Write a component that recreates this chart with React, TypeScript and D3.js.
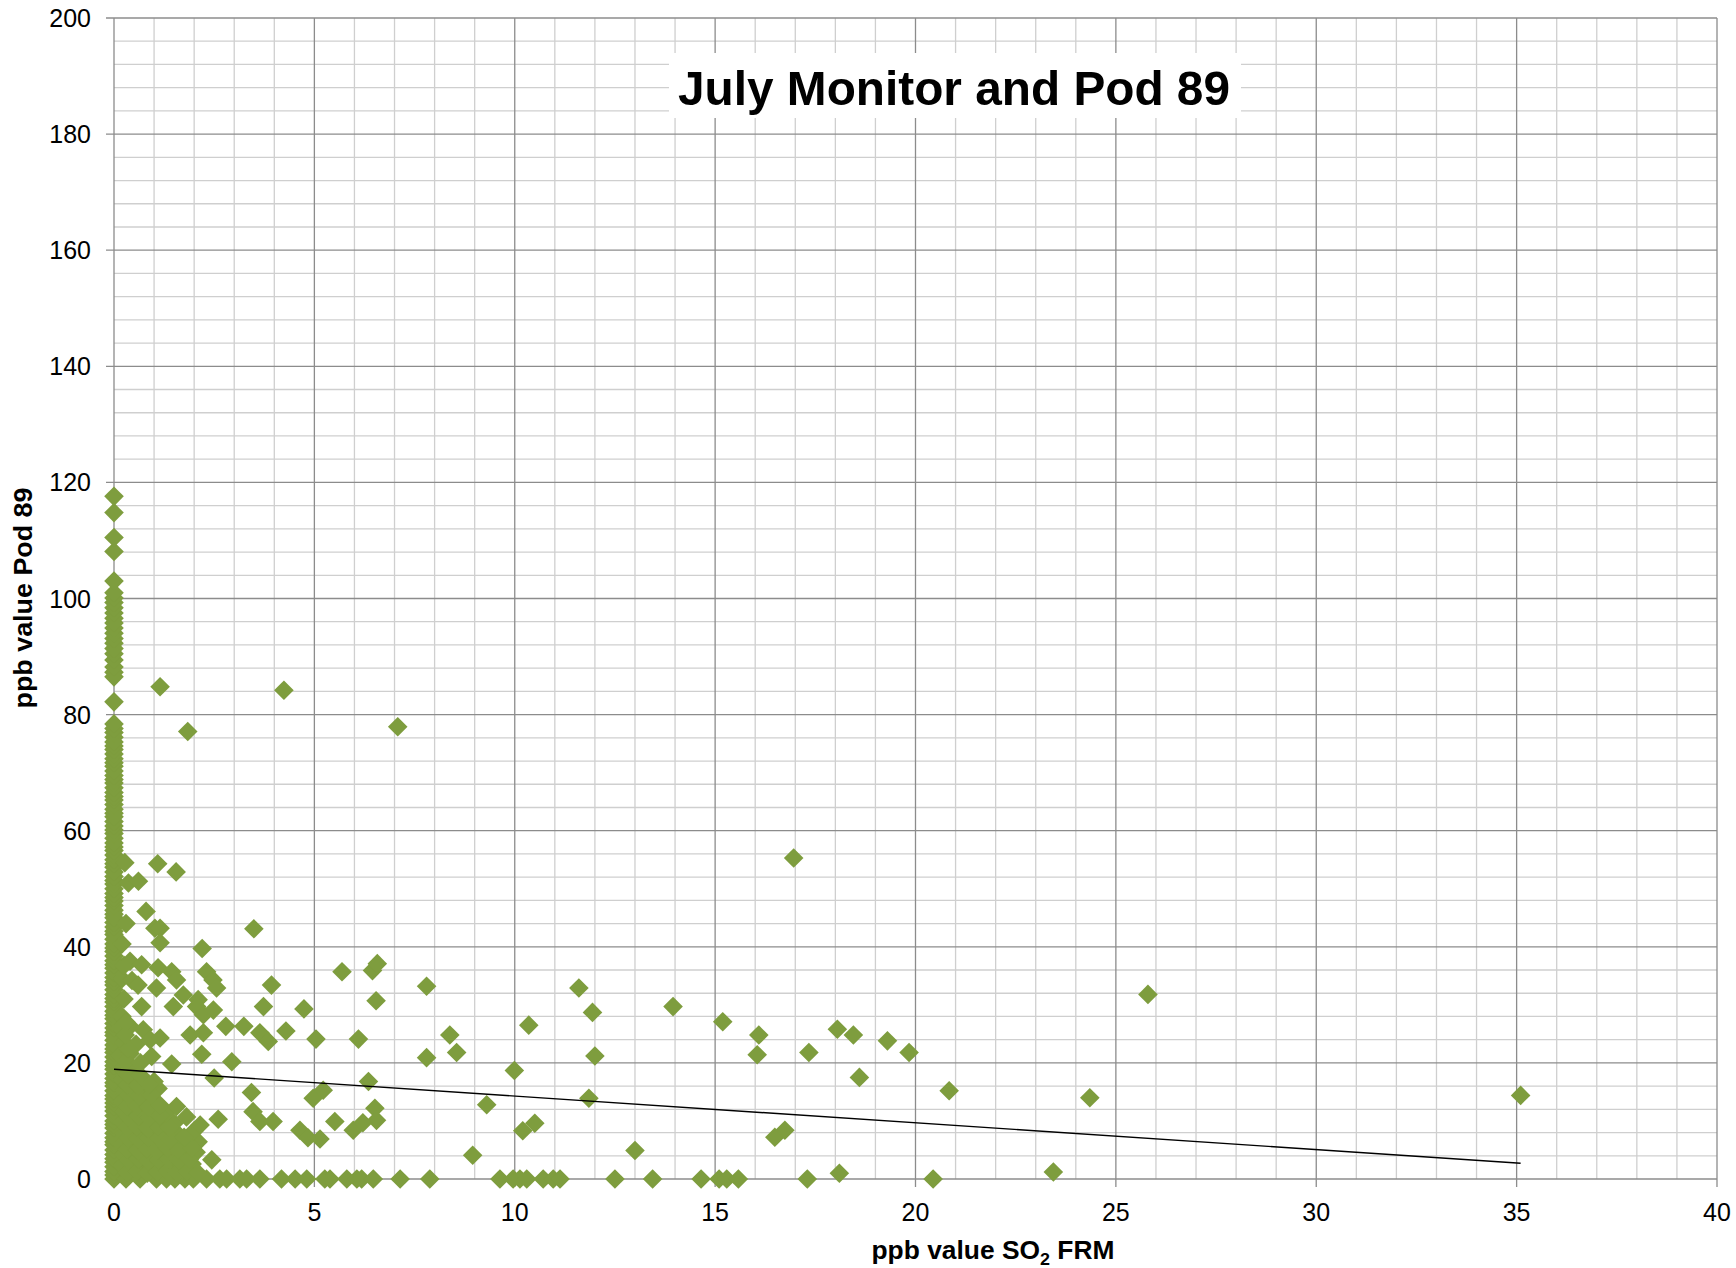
import React from 'react';
import * as d3 from 'd3';

// ppb value SO2 FRM (x) vs ppb value Pod 89 (y)

// readings where FRM = 0
const zeroFrmPod = [
  0, 0.7, 1.3, 2.1, 2.9, 3.5, 4.2, 5.0, 5.9, 6.4, 7.1, 7.9, 8.8, 9.4, 10.0, 10.9, 11.7, 12.4,
  13.1, 13.8, 14.4, 15.2, 16.0, 16.6, 17.3, 18.1, 18.9, 19.5, 20.2, 21.0, 21.8, 22.4, 23.1,
  23.9, 24.7, 25.3, 26.0, 26.8, 27.6, 28.2, 28.9, 29.7, 30.5, 31.1, 31.8, 32.6, 33.4, 34.0,
  34.7, 35.5, 36.3, 36.9, 37.6, 38.4, 39.2, 39.8, 40.5, 41.3, 42.1, 42.7, 43.4, 44.2, 45.0,
  45.6, 46.3, 47.1, 47.9, 48.5, 49.2, 50.0, 50.8, 51.4, 52.1, 52.9, 53.7, 54.3, 55.0, 55.8,
  56.6, 57.2, 57.9, 58.7, 59.5, 60.1, 60.8, 61.6, 62.4, 63.0, 63.7, 64.5, 65.3, 65.9, 66.6,
  67.4, 68.2, 68.8, 69.5, 70.3, 71.1, 71.7, 72.4, 73.2, 74.0, 74.6, 75.3, 76.1, 76.9, 77.6,
  78.4, 82.2, 86.5, 87.3, 88.2, 89.4, 90.5, 91.4, 92.3, 93.1, 94.0, 94.9, 95.8, 96.6, 97.5,
  98.4, 99.3, 100.1, 101.0, 103.0, 108.1, 110.5, 114.8, 117.6
];

// readings where Pod 89 = 0
const zeroPodFrm = [
  0.3, 0.65, 1.06, 1.31, 1.52, 1.77, 1.98, 2.31, 2.64, 2.81, 3.14, 3.31, 3.64, 4.18, 4.52,
  4.81, 5.26, 5.39, 5.81, 6.06, 6.18, 6.47, 7.14, 7.88, 9.63, 9.96, 10.13, 10.3, 10.71,
  10.96, 11.13, 12.5, 13.44, 14.65, 15.1, 15.29, 15.58, 17.3, 20.44
];

// dense cloud near the origin [frm, pod]
const nearOrigin: [number, number][] = [
  [0.2, 2.3], [0.45, 2.1], [0.7, 2.4], [0.95, 2.2], [1.2, 2.5], [1.45, 2.0], [1.7, 2.3], [1.95, 2.6],
  [0.33, 1.1], [0.58, 1.3], [0.83, 1.0], [1.08, 1.2], [1.33, 1.4], [1.58, 1.1], [1.83, 1.3], [2.1, 1.0],
  [0.25, 4.2], [0.5, 4.4], [0.75, 4.1], [1.0, 4.3], [1.25, 4.5], [1.5, 4.0], [1.75, 4.4], [2.05, 4.6],
  [0.36, 3.2], [0.61, 3.4], [0.86, 3.1], [1.11, 3.3], [1.36, 3.5], [1.63, 3.2], [1.88, 3.4],
  [0.2, 6.0], [0.45, 6.2], [0.7, 5.9], [0.95, 6.1], [1.2, 6.3], [1.45, 5.8], [1.8, 6.1], [2.1, 6.4],
  [0.33, 5.1], [0.58, 5.0], [0.83, 5.2], [1.08, 4.9], [1.33, 5.3], [1.6, 5.0], [1.95, 5.4],
  [0.25, 7.9], [0.5, 8.1], [0.75, 7.8], [1.0, 8.0], [1.3, 8.2], [1.6, 7.7], [2.0, 8.3],
  [0.36, 7.0], [0.61, 6.9], [0.86, 7.1], [1.13, 7.0], [1.4, 6.8], [1.75, 7.2],
  [0.2, 9.8], [0.45, 10.0], [0.7, 9.7], [0.95, 9.9], [1.2, 10.2], [1.5, 9.6],
  [0.33, 8.9], [0.58, 9.0], [0.83, 8.8], [1.1, 9.1], [1.38, 8.9],
  [0.25, 11.6], [0.5, 11.8], [0.75, 11.5], [1.0, 11.7], [1.3, 11.4],
  [0.36, 10.7], [0.61, 10.8], [0.88, 10.6], [1.15, 10.9],
  [0.2, 13.4], [0.45, 13.6], [0.7, 13.3], [1.0, 13.5],
  [0.33, 12.5], [0.58, 12.6], [0.85, 12.4], [1.15, 12.7],
  [0.25, 15.3], [0.5, 15.1], [0.8, 15.4], [1.1, 15.6],
  [0.36, 14.4], [0.64, 14.3], [0.93, 14.5],
  [0.2, 17.1], [0.45, 17.3], [0.75, 17.0], [1.0, 16.8],
  [0.33, 16.2], [0.6, 16.1], [0.88, 16.3],
  [0.2, 19.0], [0.5, 18.8], [0.35, 18.0], [0.65, 17.9],
  [0.15, 21.3], [0.4, 21.6], [0.3, 20.3],
  [0.25, 23.5], [0.55, 23.2], [0.35, 22.4],
  [0.15, 26.0], [0.4, 26.3], [0.28, 24.8],
  [0.2, 28.0], [0.25, 31.0], [0.3, 27.0],
  [0.2, 34.5], [0.45, 34.2], [0.25, 36.8],
  [0.27, 54.5], [0.36, 51.0], [0.3, 44.0], [0.2, 40.5]
];

// scattered readings [frm, pod]
const scattered: [number, number][] = [
  [1.15, 84.8], [4.24, 84.2], [1.84, 77.1], [7.08, 77.9], [16.96, 55.3],
  [1.09, 54.3], [1.55, 52.9], [0.61, 51.3], [0.8, 46.1], [1.02, 43.2], [1.15, 43.2],
  [1.15, 40.7], [2.2, 39.7], [3.49, 43.1], [0.4, 37.5], [0.69, 36.9], [1.1, 36.4],
  [1.44, 35.7], [1.56, 34.3], [0.6, 33.4], [1.06, 32.9], [2.31, 35.7], [2.47, 34.3],
  [2.56, 32.9], [1.73, 31.7], [2.1, 30.9], [3.93, 33.4], [5.69, 35.7], [6.45, 35.9],
  [6.57, 37.1], [6.54, 30.7], [0.69, 29.7], [1.48, 29.7], [2.06, 29.7], [2.23, 28.3],
  [2.48, 29.1], [3.73, 29.7], [4.74, 29.3], [2.79, 26.3], [3.24, 26.3], [3.64, 25.2],
  [3.85, 23.7], [4.29, 25.5], [5.04, 24.1], [6.1, 24.1], [0.73, 25.7], [0.9, 24.0],
  [1.15, 24.3], [1.9, 24.8], [2.23, 25.2], [2.19, 21.5], [2.94, 20.2], [1.44, 19.8],
  [0.94, 21.1], [0.66, 20.0], [2.5, 17.4], [3.43, 14.9], [4.97, 13.9], [5.22, 15.3],
  [6.35, 16.8], [6.51, 12.2], [6.55, 10.1], [2.6, 10.3], [3.47, 11.6], [3.64, 9.9],
  [3.97, 9.9], [4.64, 8.4], [4.84, 7.1], [5.14, 6.9], [5.51, 9.9], [5.97, 8.4],
  [6.21, 9.7], [1.56, 12.5], [1.81, 10.7], [2.15, 9.3], [2.44, 3.3],
  [7.8, 33.2], [8.38, 24.8], [8.55, 21.8], [7.8, 20.9], [9.99, 18.7], [10.35, 26.5],
  [11.6, 32.9], [11.94, 28.7], [12.0, 21.2], [11.85, 13.9], [13.95, 29.7], [15.19, 27.1],
  [16.09, 24.8], [16.05, 21.4], [17.34, 21.8], [9.3, 12.8], [10.2, 8.3], [10.5, 9.6],
  [8.95, 4.1], [13.0, 4.9], [16.49, 7.2], [16.74, 8.4],
  [18.05, 25.8], [18.45, 24.8], [19.3, 23.8], [19.84, 21.8], [18.6, 17.5], [20.84, 15.2],
  [24.35, 14.0], [25.8, 31.8], [18.1, 1.0], [23.44, 1.2], [35.1, 14.4]
];

// linear trendline
const trendIntercept = 18.9;
const trendSlope = -0.461;
const trendEndX = 35.1;

const xTicks = [0, 5, 10, 15, 20, 25, 30, 35, 40];
const yTicks = [0, 20, 40, 60, 80, 100, 120, 140, 160, 180, 200];

const W = 1736;
const H = 1268;
const left = 114, right = 1717, top = 18, bottom = 1179;
const green = '#7e9d3e';
const font = '"Liberation Sans", Arial, sans-serif';

export default function App() {
  const x = d3.scaleLinear().domain([0, 40]).range([left, right]);
  const y = d3.scaleLinear().domain([0, 200]).range([bottom, top]);

  const points: [number, number][] = [
    ...zeroFrmPod.map((v) => [0, v] as [number, number]),
    ...zeroPodFrm.map((v) => [v, 0] as [number, number]),
    ...nearOrigin,
    ...scattered
  ];

  const hasD2 = !!(d3 as any).symbolDiamond2;
  const diamond = d3.symbol().type(hasD2 ? (d3 as any).symbolDiamond2 : d3.symbolSquare).size(hasD2 ? 245 : 192)();
  const rot = hasD2 ? '' : ' rotate(45)';

  const minorX = d3.range(0, 41, 1).filter((v) => v % 5 !== 0);
  const minorY = d3.range(0, 201, 4).filter((v) => v % 20 !== 0);

  const trend = d3.line<number>().x((d) => x(d)).y((d) => y(trendIntercept + trendSlope * d));

  return (
    <svg width={W} height={H} style={{ position: 'absolute', left: 0, top: 0, background: '#fff' }}>
      <rect x={0} y={0} width={W} height={H} fill="#fff" />
      {/* minor grid */}
      <g stroke="#cfcfcf" strokeWidth={1.3}>
        {minorX.map((v) => (
          <line key={'mx' + v} x1={x(v)} x2={x(v)} y1={top} y2={bottom} />
        ))}
        {minorY.map((v) => (
          <line key={'my' + v} x1={left} x2={right} y1={y(v)} y2={y(v)} />
        ))}
      </g>
      {/* major grid */}
      <g stroke="#8c8c8c" strokeWidth={1.3}>
        {xTicks.map((v) => (
          <line key={'gx' + v} x1={x(v)} x2={x(v)} y1={top} y2={bottom + 8} />
        ))}
        {yTicks.map((v) => (
          <line key={'gy' + v} x1={left - 8} x2={right} y1={y(v)} y2={y(v)} />
        ))}
      </g>
      {/* title box */}
      <rect x={669} y={53} width={572} height={65} fill="#fff" />
      <text x={954} y={105} textAnchor="middle" fontFamily={font} fontWeight="bold" fontSize={49}
        textLength={552} lengthAdjust="spacingAndGlyphs" fill="#000">
        July Monitor and Pod 89
      </text>
      {/* tick labels */}
      <g fontFamily={font} fontSize={25} fill="#000">
        {yTicks.map((v) => (
          <text key={'ly' + v} x={91} y={y(v) + 9} textAnchor="end">{v}</text>
        ))}
        {xTicks.map((v) => (
          <text key={'lx' + v} x={x(v)} y={bottom + 42} textAnchor="middle">{v}</text>
        ))}
      </g>
      {/* axis titles */}
      <text x={993} y={1259} textAnchor="middle" fontFamily={font} fontWeight="bold" fontSize={25}
        textLength={243} lengthAdjust="spacingAndGlyphs" fill="#000">
        ppb value SO<tspan fontSize={17} dy={6}>2</tspan><tspan dy={-6}> FRM</tspan>
      </text>
      <text transform="translate(32,598) rotate(-90)" textAnchor="middle" fontFamily={font}
        fontWeight="bold" fontSize={25} textLength={221} lengthAdjust="spacingAndGlyphs" fill="#000">
        ppb value Pod 89
      </text>
      {/* points */}
      <g fill={green}>
        {points.map((p, i) => (
          <path key={'p' + i} d={diamond as string} transform={`translate(${x(p[0])},${y(p[1])})${rot}`} />
        ))}
      </g>
      {/* trendline */}
      <path d={trend([0, trendEndX]) as string} stroke="#000" strokeWidth={1.4} fill="none" />
    </svg>
  );
}
